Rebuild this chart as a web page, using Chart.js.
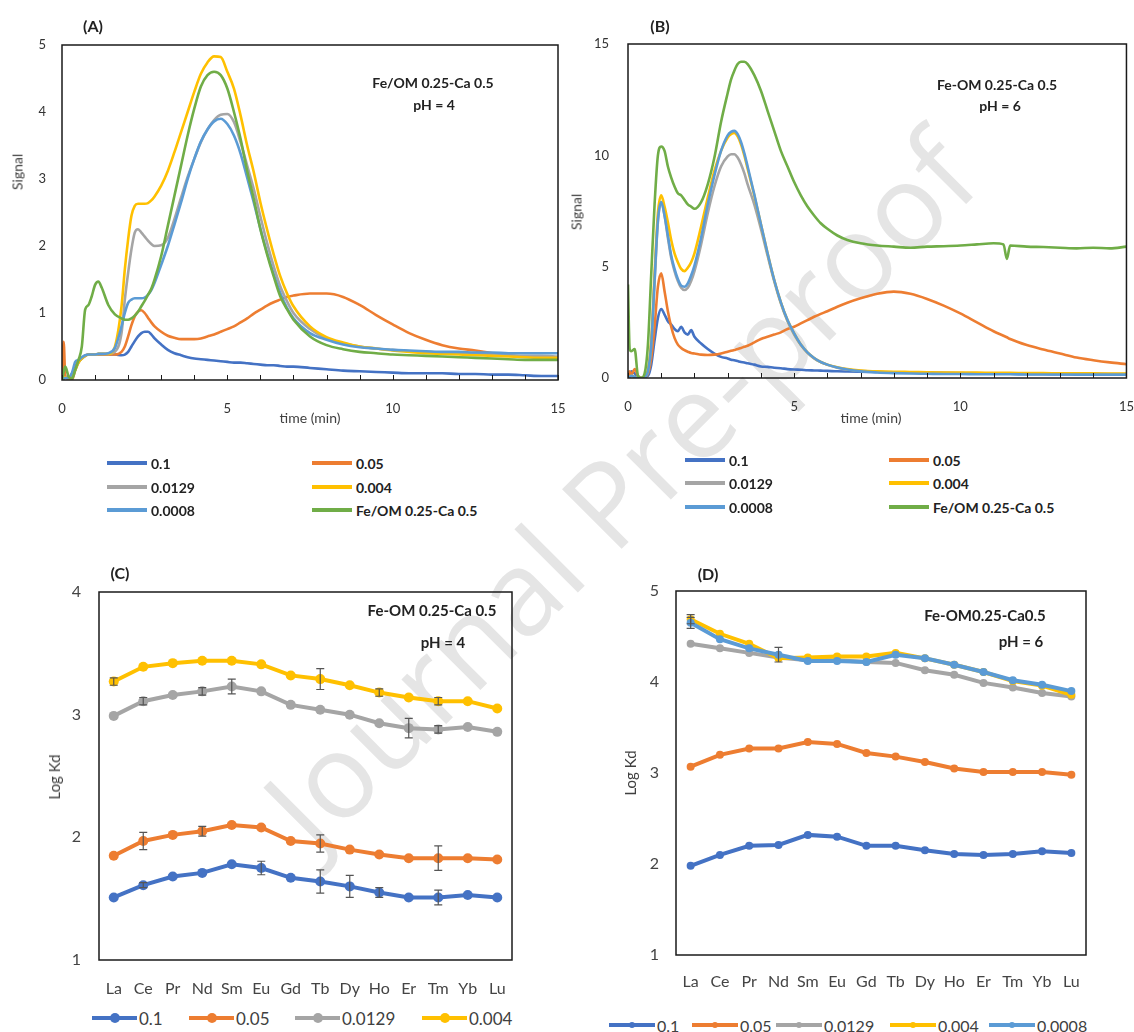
<!DOCTYPE html>
<html lang="en">
<head>
<meta charset="utf-8">
<title>Signal vs time and Log Kd</title>
<script src="https://cdn.jsdelivr.net/npm/chart.js@4.4.1/dist/chart.umd.min.js"></script>
<style>
  html, body { margin: 0; padding: 0; background: #fff; }
  body { position: relative; width: 1134px; height: 1032px; overflow: hidden;
         font-family: Lato, 'Open Sans', Arial, sans-serif; color: #222; }
  canvas { position: absolute; z-index: 2; }
  .txt { position: absolute; white-space: nowrap; z-index: 3; transform: translate(-50%, -50%); }
  .panel { font-size: 16px; font-weight: 700; }
  .note { font-size: 14px; font-weight: 700; }
  .note.big { font-size: 15px; }
  .axt { font-size: 14px; color: #404040; }
  .axt.v { transform: translate(-50%, -50%) rotate(-90deg); }
  .watermark { position: absolute; left: 618px; top: 488px; z-index: 1; white-space: nowrap;
               transform: translate(-50%, -50%) rotate(-45deg); font-family: 'Open Sans', sans-serif;
               font-size: 118px; color: #e5e5e5; }
  .lg { position: absolute; height: 0; z-index: 3; }
  .lg .ln { position: absolute; top: -2px; height: 4px; }
  .lg .dot { position: absolute; border-radius: 50%; }
  .lg .lt { position: absolute; top: 0; transform: translateY(-50%); white-space: nowrap; }
</style>
</head>
<body>
<div class="watermark">Journal Pre-proof</div>

<canvas id="chartA" width="570" height="420" style="left:0;top:0"></canvas>
<canvas id="chartB" width="574" height="418" style="left:560px;top:0"></canvas>
<canvas id="chartC" width="540" height="460" style="left:0;top:540px"></canvas>
<canvas id="chartD" width="574" height="455" style="left:560px;top:540px"></canvas>

<div class="txt panel" style="left:93px;top:25px">(A)</div>
<div class="txt panel" style="left:660px;top:25px">(B)</div>
<div class="txt panel" style="left:120px;top:572px">(C)</div>
<div class="txt panel" style="left:708px;top:573px">(D)</div>

<div class="txt note" style="left:433px;top:82px">Fe/OM 0.25-Ca 0.5</div>
<div class="txt note" style="left:434px;top:104px">pH = 4</div>
<div class="txt note" style="left:997px;top:84px">Fe-OM 0.25-Ca 0.5</div>
<div class="txt note" style="left:1000px;top:105px">pH = 6</div>
<div class="txt note big" style="left:432px;top:610px">Fe-OM 0.25-Ca 0.5</div>
<div class="txt note big" style="left:443px;top:642px">pH = 4</div>
<div class="txt note big" style="left:985px;top:615px">Fe-OM0.25-Ca0.5</div>
<div class="txt note big" style="left:1021px;top:641px">pH = 6</div>

<div class="txt axt v" style="left:17px;top:172px">Signal</div>
<div class="txt axt v" style="left:576px;top:212px">Signal</div>
<div class="txt axt" style="left:310px;top:417px">time (min)</div>
<div class="txt axt" style="left:871px;top:417px">time (min)</div>
<div class="txt axt v" style="left:54px;top:777px;font-size:15px">Log Kd</div>
<div class="txt axt v" style="left:630px;top:773px;font-size:15px">Log Kd</div>

<script>
// ---- data ----
const timeA = [0,0.05,0.1,0.2,0.3,0.4,0.5,0.6,0.7,0.8,0.9,
  1.0,1.1,1.2,1.4,1.6,1.8,1.9,
  2.0,2.1,2.2,2.3,2.4,2.5,2.6,2.7,2.8,
  3.0,3.2,3.4,3.6,3.8,4.0,4.2,4.4,4.6,4.8,5.0,5.2,5.4,5.6,5.8,6.0,6.2,6.4,6.6,6.8,7.0,
  7.5,8,8.5,9,9.5,10,10.5,11,11.5,12,12.5,13,13.5,14,14.5,15];

const a_01 = [0,0.02,0.05,0.03,0.1,0.2,0.27,0.32,0.36,0.38,0.38,
  0.38,0.38,0.38,0.38,0.38,0.37,0.38,
  0.42,0.5,0.58,0.65,0.7,0.72,0.72,0.68,0.62,
  0.53,0.45,0.4,0.37,0.34,0.32,0.31,0.3,0.29,0.28,0.27,0.26,0.26,0.25,0.24,0.23,0.22,0.22,0.21,0.2,0.2,
  0.18,0.16,0.14,0.13,0.12,0.11,0.1,0.1,0.1,0.09,0.09,0.08,0.08,0.07,0.06,0.06];
const a_005 = [0,0.57,0.05,0.02,0,0.15,0.28,0.33,0.36,0.38,0.38,
  0.38,0.38,0.38,0.38,0.38,0.42,0.5,
  0.65,0.82,0.95,1.02,1.04,1.0,0.93,0.86,0.8,
  0.72,0.66,0.63,0.61,0.61,0.61,0.62,0.65,0.68,0.72,0.76,0.8,0.86,0.92,0.99,1.05,1.11,1.16,1.2,1.24,1.26,
  1.29,1.29,1.24,1.12,0.97,0.83,0.7,0.6,0.52,0.47,0.44,0.4,0.37,0.35,0.34,0.33];
const a_0129 = [0,0.02,0.04,0.02,0.05,0.15,0.26,0.32,0.36,0.38,0.38,
  0.38,0.39,0.39,0.39,0.42,0.7,1.2,
  1.6,1.95,2.2,2.25,2.2,2.14,2.08,2.03,2.0,
  2.01,2.12,2.4,2.72,3.03,3.3,3.55,3.74,3.88,3.96,3.97,3.85,3.55,3.2,2.85,2.44,2.05,1.7,1.4,1.18,1.0,
  0.76,0.62,0.55,0.5,0.47,0.45,0.43,0.42,0.41,0.4,0.39,0.38,0.37,0.36,0.36,0.35];
const a_0004 = [0,0.02,0.04,0.02,0.05,0.15,0.26,0.32,0.36,0.38,0.38,
  0.38,0.39,0.39,0.39,0.5,1.1,1.65,
  2.1,2.45,2.6,2.63,2.63,2.63,2.64,2.68,2.74,
  2.9,3.12,3.4,3.7,4.0,4.3,4.57,4.74,4.83,4.82,4.6,4.35,3.95,3.5,3.1,2.65,2.25,1.88,1.55,1.3,1.1,
  0.8,0.64,0.56,0.5,0.47,0.44,0.42,0.4,0.39,0.38,0.37,0.36,0.35,0.34,0.33,0.33];
const a_00008 = [0,0.02,0.03,0.03,0.1,0.27,0.3,0.34,0.37,0.38,0.38,
  0.38,0.39,0.39,0.4,0.48,0.8,1.0,
  1.15,1.2,1.22,1.22,1.22,1.23,1.27,1.34,1.45,
  1.72,2.0,2.32,2.65,3.0,3.3,3.56,3.74,3.86,3.9,3.82,3.65,3.38,3.02,2.65,2.26,1.9,1.58,1.3,1.08,0.92,
  0.7,0.6,0.53,0.49,0.47,0.45,0.44,0.43,0.42,0.42,0.41,0.41,0.4,0.4,0.4,0.4];
const a_feom = [0,0.12,0.2,0.05,0.02,0.15,0.3,0.5,1.05,1.12,1.25,
  1.42,1.47,1.38,1.12,0.98,0.92,0.9,
  0.9,0.92,0.96,1.02,1.1,1.18,1.27,1.36,1.5,
  1.85,2.3,2.75,3.2,3.65,4.05,4.38,4.55,4.6,4.55,4.35,4.0,3.6,3.12,2.7,2.25,1.88,1.55,1.25,1.06,0.9,
  0.65,0.52,0.46,0.42,0.4,0.38,0.37,0.36,0.35,0.34,0.33,0.32,0.31,0.3,0.3,0.3];

const timeB = [0,0.05,0.1,0.2,0.3,0.4,0.5,0.6,0.7,0.8,0.9,
  1.0,1.1,1.2,1.3,1.4,1.5,1.6,1.7,1.8,1.9,
  2.0,2.2,2.4,2.6,2.8,
  3.0,3.1,3.2,3.3,3.4,3.5,3.6,
  3.8,4.0,4.2,4.4,4.6,4.8,5.0,5.2,5.4,5.6,5.8,6.0,
  6.3,6.6,7.0,7.5,8,8.5,9,9.5,10,10.5,11,
  11.3,11.4,11.5,
  12,12.5,13,13.5,14,14.5,15];

const b_01 = [0,0.1,0.3,0.2,0.05,0,0.05,0.1,0.6,1.7,2.7,
  3.1,2.85,2.55,2.4,2.2,2.1,2.3,2.05,1.95,2.15,
  1.85,1.55,1.3,1.1,0.95,
  0.88,0.82,0.8,0.76,0.72,0.7,0.66,
  0.6,0.52,0.5,0.46,0.44,0.4,0.38,0.37,0.35,0.34,0.33,0.32,
  0.3,0.29,0.28,0.27,0.25,0.24,0.23,0.22,0.21,0.2,0.2,
  0.19,0.19,0.19,
  0.18,0.18,0.17,0.17,0.16,0.16,0.15];
const b_005 = [0,0.3,0.15,0.4,0.1,0,0.05,0.2,0.9,2.3,4.1,
  4.7,3.9,3.0,2.3,1.8,1.5,1.35,1.25,1.18,1.12,
  1.1,1.05,1.03,1.05,1.1,
  1.18,1.22,1.26,1.3,1.35,1.4,1.45,
  1.6,1.75,1.85,1.95,2.05,2.2,2.3,2.45,2.6,2.75,2.88,3.0,
  3.2,3.38,3.58,3.78,3.88,3.78,3.55,3.25,2.9,2.5,2.1,
  1.9,1.83,1.75,
  1.48,1.28,1.1,0.92,0.8,0.7,0.62];
const b_0129 = [0,0.05,0.1,0.05,0,0,0.05,0.3,1.5,4.3,7.0,
  7.9,7.3,6.3,5.4,4.8,4.35,4.05,3.95,4.05,4.35,
  4.8,6.0,7.4,8.6,9.5,
  9.95,10.05,10.05,9.9,9.6,9.2,8.7,
  7.8,6.7,5.5,4.35,3.35,2.55,1.95,1.48,1.13,0.88,0.71,0.59,
  0.46,0.38,0.32,0.28,0.26,0.25,0.24,0.23,0.22,0.21,0.21,
  0.2,0.2,0.2,
  0.2,0.2,0.19,0.19,0.19,0.18,0.18];
const b_0004 = [0,0.05,0.1,0.05,0,0,0.05,0.35,1.7,4.7,7.4,
  8.2,7.7,7.0,6.2,5.6,5.2,4.9,4.8,4.95,5.2,
  5.6,6.8,8.1,9.3,10.2,
  10.8,10.95,11.0,10.85,10.5,10.0,9.4,
  8.2,6.9,5.6,4.4,3.4,2.6,2.0,1.5,1.15,0.9,0.72,0.6,
  0.48,0.4,0.34,0.3,0.28,0.27,0.26,0.25,0.24,0.24,0.23,
  0.23,0.23,0.23,
  0.22,0.22,0.21,0.21,0.21,0.2,0.2];
const b_00008 = [0,0.05,0.1,0.05,0,0,0.05,0.3,1.5,4.4,7.1,
  7.9,7.3,6.4,5.5,4.9,4.45,4.15,4.1,4.25,4.6,
  5.05,6.3,7.8,9.1,10.2,
  10.9,11.05,11.1,10.95,10.6,10.1,9.5,
  8.25,6.9,5.6,4.4,3.4,2.6,2.0,1.5,1.15,0.9,0.72,0.6,
  0.47,0.38,0.3,0.25,0.22,0.2,0.19,0.18,0.18,0.17,0.17,
  0.17,0.17,0.17,
  0.16,0.16,0.16,0.15,0.15,0.15,0.15];
const b_feom = [4.2,1.3,1.2,1.3,0.1,0,0.2,1.5,4.7,7.8,10.0,
  10.4,10.2,9.5,9.0,8.6,8.3,8.2,8.0,7.8,7.7,
  7.6,7.9,8.7,9.9,11.5,
  12.8,13.4,13.8,14.1,14.2,14.2,14.1,
  13.6,12.9,12.0,11.1,10.2,9.5,8.8,8.2,7.7,7.3,6.95,6.7,
  6.4,6.2,6.05,5.95,5.9,5.85,5.9,5.92,5.95,6.0,6.05,
  6.0,5.35,5.95,
  5.9,5.88,5.85,5.82,5.85,5.82,5.9];

const elements = ['La','Ce','Pr','Nd','Sm','Eu','Gd','Tb','Dy','Ho','Er','Tm','Yb','Lu'];

const c_01    = [1.51,1.61,1.68,1.71,1.78,1.75,1.67,1.64,1.60,1.55,1.51,1.51,1.53,1.51];
const c_005   = [1.85,1.97,2.02,2.05,2.10,2.08,1.97,1.95,1.90,1.86,1.83,1.83,1.83,1.82];
const c_0129  = [2.99,3.11,3.16,3.19,3.23,3.19,3.08,3.04,3.00,2.93,2.89,2.88,2.90,2.86];
const c_0004  = [3.27,3.39,3.42,3.44,3.44,3.41,3.32,3.29,3.24,3.18,3.14,3.11,3.11,3.05];
const cErr_01   = [0,0.02,0,0,0,0.055,0,0.095,0.09,0.04,0,0.06,0,0];
const cErr_005  = [0,0.07,0,0.04,0,0,0,0.07,0,0,0,0.1,0,0];
const cErr_0129 = [0,0.03,0,0.03,0.06,0,0,0,0,0,0.08,0.03,0,0];
const cErr_0004 = [0.03,0,0,0,0,0,0,0.085,0,0.03,0,0.03,0,0];

const d_01    = [1.98,2.10,2.20,2.21,2.32,2.30,2.20,2.20,2.15,2.11,2.10,2.11,2.14,2.12];
const d_005   = [3.07,3.20,3.27,3.27,3.34,3.32,3.22,3.18,3.12,3.05,3.01,3.01,3.01,2.98];
const d_0129  = [4.42,4.37,4.32,4.27,4.24,4.24,4.22,4.21,4.13,4.08,3.99,3.94,3.88,3.84];
const d_0004  = [4.69,4.53,4.42,4.26,4.27,4.28,4.28,4.32,4.26,4.19,4.11,4.01,3.96,3.86];
const d_00008 = [4.65,4.47,4.37,4.30,4.23,4.23,4.22,4.30,4.26,4.19,4.11,4.02,3.97,3.90];
const dErr_0004  = [0.05,0,0,0,0,0,0,0,0,0,0,0,0,0];
const dErr_00008 = [0.06,0,0,0.08,0,0,0,0,0,0,0,0,0,0];

const ticksA = [0, 5, 10, 15];
const ticksSignalA = [0, 1, 2, 3, 4, 5];
const ticksSignalB = [0, 5, 10, 15];

const seriesNames = ['0.1', '0.05', '0.0129', '0.004', '0.0008', 'Fe/OM 0.25-Ca 0.5'];
const seriesColors = ['#4472C4', '#ED7D31', '#A5A5A5', '#FFC000', '#5B9BD5', '#70AD47'];

// ---- plugins ----
const framePlugin = {
  id: 'frame',
  afterDraw(chart) {
    const { ctx, chartArea: a } = chart;
    ctx.save();
    ctx.strokeStyle = '#1a1a1a';
    ctx.lineWidth = 1.5;
    ctx.strokeRect(a.left, a.top, a.right - a.left, a.bottom - a.top);
    ctx.restore();
  }
};

// small tick marks pointing into the plot, one per minute
const innerTicks = {
  id: 'innerTicks',
  afterDraw(chart) {
    const s = chart.scales.x;
    if (s.type !== 'linear') return;
    const { ctx, chartArea: a } = chart;
    ctx.save();
    ctx.strokeStyle = '#1a1a1a';
    ctx.lineWidth = 1;
    ctx.beginPath();
    s.ticks.forEach(t => {
      const x = Math.round(s.getPixelForValue(t.value)) + 0.5;
      ctx.moveTo(x, a.bottom);
      ctx.lineTo(x, a.bottom - 5);
    });
    ctx.stroke();
    ctx.restore();
  }
};

const errorBars = {
  id: 'errorBars',
  afterDatasetsDraw(chart) {
    const { ctx } = chart;
    const y = chart.scales.y;
    ctx.save();
    ctx.strokeStyle = '#555';
    ctx.lineWidth = 1.2;
    chart.data.datasets.forEach((ds, i) => {
      if (!ds.errorBars) return;
      const meta = chart.getDatasetMeta(i);
      meta.data.forEach((pt, j) => {
        const e = ds.errorBars[j];
        if (!e) return;
        const top = y.getPixelForValue(ds.data[j] + e);
        const bot = y.getPixelForValue(ds.data[j] - e);
        ctx.beginPath();
        ctx.moveTo(pt.x, top); ctx.lineTo(pt.x, bot);
        ctx.moveTo(pt.x - 4, top); ctx.lineTo(pt.x + 4, top);
        ctx.moveTo(pt.x - 4, bot); ctx.lineTo(pt.x + 4, bot);
        ctx.stroke();
      });
    });
    ctx.restore();
  }
};

Chart.defaults.font.family = "Lato, 'Open Sans', sans-serif";
Chart.defaults.color = '#333';
Chart.defaults.animation = false;

function signalChart(id, time, series, yMax, yTicks, yWidth, pad, yPad) {
  const n = series.length;
  new Chart(document.getElementById(id), {
    type: 'line',
    data: {
      labels: time,
      datasets: series.map((vals, i) => ({
        label: seriesNames[i],
        data: vals.map((v, k) => ({ x: time[k], y: v })),
        borderColor: seriesColors[i],
        borderWidth: 2.6,
        pointRadius: 0,
        cubicInterpolationMode: 'monotone',
        order: n - 1 - i
      }))
    },
    options: {
      responsive: false,
      layout: { padding: pad },
      plugins: { legend: { display: false }, tooltip: { enabled: false } },
      scales: {
        x: {
          type: 'linear', min: 0, max: 15,
          // tick length (not drawn) pushes the labels down without widening the side padding
          grid: { display: false, drawTicks: true, tickLength: 21 },
          border: { display: false },
          ticks: {
            stepSize: 1, autoSkip: false, maxRotation: 0, padding: 0,
            font: { size: 13 },
            callback: v => (ticksA.includes(v) ? v : '')
          },
          afterFit: s => { s.height = 40; }
        },
        y: {
          min: 0, max: yMax,
          grid: { display: false, drawTicks: false },
          border: { display: false },
          afterBuildTicks: s => { s.ticks = yTicks.map(v => ({ value: v })); },
          ticks: { padding: yPad, font: { size: 13 } },
          afterFit: s => { s.width = yWidth; }
        }
      }
    },
    plugins: [framePlugin, innerTicks]
  });
}

function kdChart(id, series, errs, names, colors, yMax, yWidth, pad, yPad, xPad, radius) {
  const n = series.length;
  new Chart(document.getElementById(id), {
    type: 'line',
    data: {
      labels: elements,
      datasets: series.map((vals, i) => ({
        label: names[i],
        data: vals,
        errorBars: errs[i],
        borderColor: colors[i],
        backgroundColor: colors[i],
        borderWidth: 4,
        pointRadius: radius,
        pointBorderWidth: 0,
        tension: 0,
        order: n - 1 - i
      }))
    },
    options: {
      responsive: false,
      layout: { padding: pad },
      plugins: { legend: { display: false }, tooltip: { enabled: false } },
      scales: {
        x: {
          offset: true,
          grid: { display: false, drawTicks: false },
          border: { display: false },
          ticks: { padding: xPad, maxRotation: 0, autoSkip: false, font: { size: 16 }, color: '#444' },
          afterFit: s => { s.height = 40; }
        },
        y: {
          min: 1, max: yMax,
          grid: { display: false, drawTicks: false },
          border: { display: false },
          ticks: { stepSize: 1, padding: yPad, font: { size: 16 }, color: '#444' },
          afterFit: s => { s.width = yWidth; }
        }
      }
    },
    plugins: [framePlugin, errorBars]
  });
}

signalChart('chartA', timeA, [a_01, a_005, a_0129, a_0004, a_00008, a_feom], 5, ticksSignalA, 62,
  { top: 45, right: 12, left: 0, bottom: 0 }, 16);
signalChart('chartB', timeB, [b_01, b_005, b_0129, b_0004, b_00008, b_feom], 15, ticksSignalB, 68,
  { top: 44, right: 7, left: 0, bottom: 0 }, 19);

kdChart('chartC', [c_01, c_005, c_0129, c_0004], [cErr_01, cErr_005, cErr_0129, cErr_0004],
  seriesNames.slice(0, 4), seriesColors.slice(0, 4), 4, 99,
  { top: 52, right: 28, left: 0, bottom: 0 }, 18, 19, 5);
kdChart('chartD', [d_01, d_005, d_0129, d_0004, d_00008], [null, null, null, dErr_0004, dErr_00008],
  seriesNames.slice(0, 5), seriesColors.slice(0, 5), 5, 116,
  { top: 51, right: 48, left: 0, bottom: 0 }, 17, 17, 4);

// ---- html legends ----
function legendItem(x, y, len, color, label, opt) {
  const el = document.createElement('div');
  el.className = 'lg';
  el.style.left = x + 'px';
  el.style.top = y + 'px';
  let html = `<div class="ln" style="left:0;width:${len}px;background:${color};height:${opt.lw}px;top:${-opt.lw / 2}px"></div>`;
  if (opt.dot) {
    html += `<div class="dot" style="left:${len / 2 - opt.dot}px;top:${-opt.dot}px;width:${opt.dot * 2}px;height:${opt.dot * 2}px;background:${color}"></div>`;
  }
  html += `<div class="lt" style="left:${len + opt.gap}px;font-size:${opt.size}px;font-weight:${opt.weight};color:${opt.color}">${label}</div>`;
  el.innerHTML = html;
  document.body.appendChild(el);
}

const topLegendOpt = { lw: 3.5, gap: 4, size: 14, weight: 700, color: '#222' };
[[107, 312, [463, 487, 510]], [685, 889, [460, 483, 507]]].forEach(([c1, c2, rows]) => {
  seriesNames.forEach((name, i) => {
    const x = i % 2 === 0 ? c1 : c2;
    const y = rows[Math.floor(i / 2)];
    legendItem(x, y, 40, seriesColors[i], name, topLegendOpt);
  });
});

[92, 189, 295, 422].forEach((x, i) =>
  legendItem(x, 1018, 45, seriesColors[i], seriesNames[i],
    { lw: 4.5, gap: 2, size: 17, weight: 400, color: '#404040', dot: 5 }));
[609, 692, 776, 890, 989].forEach((x, i) =>
  legendItem(x, 1025, 46, seriesColors[i], seriesNames[i],
    { lw: 4.5, gap: 2, size: 16, weight: 400, color: '#404040', dot: 3 }));
</script>
</body>
</html>
